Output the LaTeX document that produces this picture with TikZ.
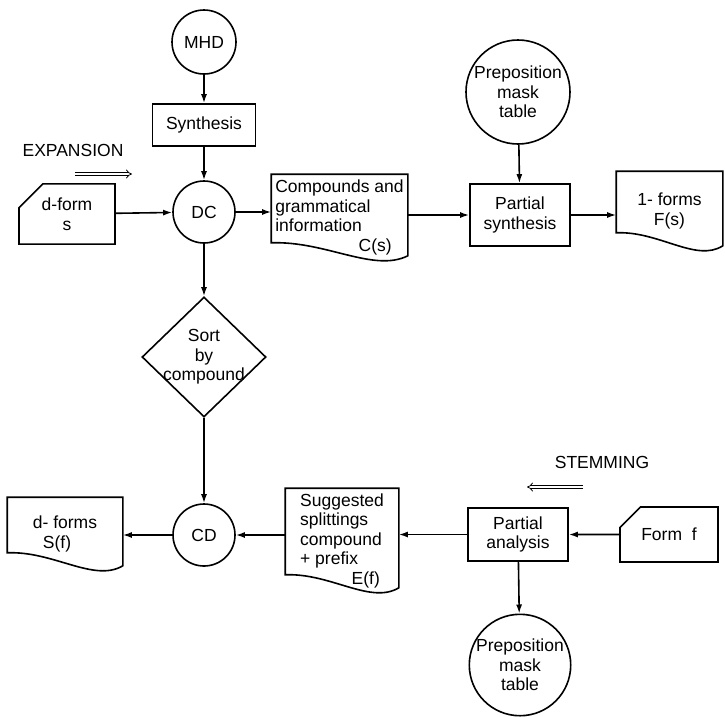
\documentclass[tikz,border=0pt]{standalone}
\usepackage{fontspec}
\setmainfont{Liberation Sans}
\usetikzlibrary{shapes.geometric,shapes.misc,arrows.meta,calc}

\begin{document}
\begin{tikzpicture}[x=1pt,y=-1pt,line width=1.6pt,>={Latex[length=9pt,width=6pt]},
		every node/.style={font=\fontsize{17.5}{19.5}\selectfont,inner sep=2pt},
		proc/.style={draw,rectangle,align=center},
		term/.style={draw,circle,inner sep=0pt,align=center},
		doc/.style={rectangle,align=center},
		card/.style={draw,chamfered rectangle,chamfered rectangle corners=north west,chamfered rectangle sep=12pt,align=center},
		dbl/.style={double,double distance=2.2pt,line width=0.8pt,-{Implies}}]
	\useasboundingbox (0,0) rectangle (725,716);
	\node[term,minimum size=64pt] (mhd) at (204,42) {MHD};
	\node[proc,minimum width=103pt,minimum height=42pt] (synth) at (204,125) {Synthesis};
	\node (exp) at (73,150) {EXPANSION};
	\coordinate (expA) at (75,174);
	\coordinate (expB) at (132,174);
	\node[card,minimum width=96pt,minimum height=55pt] (dform) at (67,214) {d-form\\s};
	\node[term,minimum size=62pt] (dc) at (204,212) {DC};
	\node[doc,align=left,minimum width=135pt,minimum height=85pt] (comp) at (339.5,217.5) {Compounds and\\grammatical\\information\\\hskip0pt plus1fill C(s)\hspace*{12pt}};
	\node[term,minimum size=104pt] (prep1) at (518,92) {Preposition\\mask\\table};
	\node[proc,minimum width=100pt,minimum height=62pt] (psyn) at (520,215) {Partial\\synthesis};
	\node[doc,minimum width=105pt,minimum height=78pt] (oneforms) at (669.5,211) {1- forms\\F(s)};
	\node[draw,diamond,aspect=1,align=center,inner sep=-5pt,minimum width=124pt,minimum height=120pt] (sort) at (204,357) {Sort\\by\\compound};
	\node[term,minimum size=62pt] (cd) at (204,535) {CD};
	\node[doc,minimum width=114pt,minimum height=72pt] (dforms) at (65,534) {d- forms\\S(f)\hspace*{16pt}};
	\node[doc,align=left,minimum width=112pt,minimum height=103pt] (sugg) at (342,540.5) {Suggested\\splittings\\compound\\ + prefix\\\hskip0pt plus1fill E(f)\hspace*{4pt}};
	\node (stem) at (602,462) {STEMMING};
	\coordinate (stemA) at (583,487);
	\coordinate (stemB) at (527,487);
	\node[proc,minimum width=100pt,minimum height=53pt] (panal) at (518,534.5) {Partial\\analysis};
	\node[card,minimum width=98pt,minimum height=55pt] (formf) at (669,534.5) {Form~~f};
	\node[term,minimum size=100pt] (prep2) at (520,665) {Preposition\\mask\\table};
	\foreach \n in {comp,oneforms,dforms,sugg}
		\draw ($(\n.south east)+(0,-5)$) -- (\n.north east) -- (\n.north west) -- ($(\n.south west)+(0,-18)$) .. controls ($(\n.south west)!0.4!(\n.south east)+(0,-20)$) and ($(\n.south west)!0.75!(\n.south east)+(0,12)$) .. cycle;
	\draw[dbl] (expA) -- (expB);
	\draw[dbl] (stemA) -- (stemB);
	\draw[->] (mhd) -- (synth);
	\draw[->] (synth) -- (dc);
	\draw[->] (dform) -- (dc);
	\draw[->] (dc) -- (dc -| comp.west);
	\draw[->] (psyn -| comp.east) -- (psyn);
	\draw[->] (prep1) -- (psyn);
	\draw[->] (psyn) -- (psyn -| oneforms.west);
	\draw[->] (dc) -- (sort);
	\draw[->] (sort) -- (cd);
	\draw[->] (cd) -- (cd -| dforms.east);
	\draw[->] (cd -| sugg.west) -- (cd);
	\draw[->] (panal) -- (panal -| sugg.east);
	\draw[->] (formf) -- (panal);
	\draw[->] (panal) -- (prep2);
\end{tikzpicture}
\end{document}
